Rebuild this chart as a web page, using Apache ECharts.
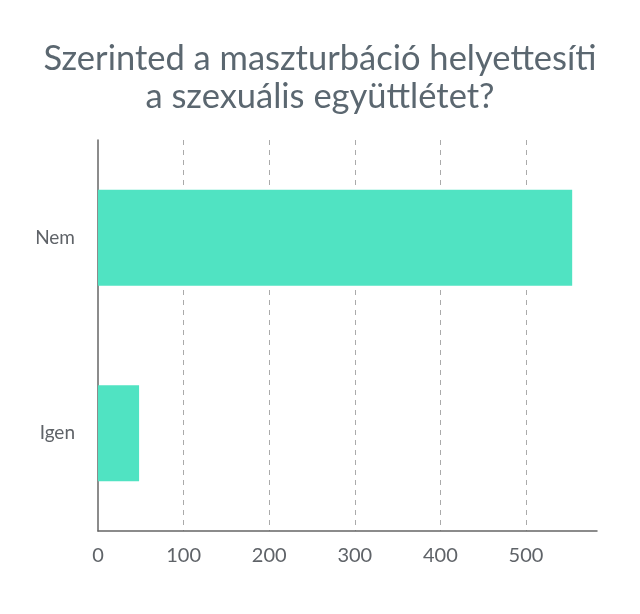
<!DOCTYPE html>
<html><head><meta charset="utf-8">
<script src="https://cdn.jsdelivr.net/npm/echarts@6/dist/echarts.min.js"></script>
<style>html,body{margin:0;padding:0;background:#fff}#c{width:640px;height:614px}</style>
</head><body><div id="c"></div>
<script>
const titleText = 'Szerinted a maszturbáció helyettesíti\na szexuális együttlétet?';
const categories = ['Igen', 'Nem'];
const values = [48, 554];
const axisMax = 583;
const tickInterval = 100;

const chart = echarts.init(document.getElementById('c'));
chart.setOption({
  animation: false,
  title: {
    text: titleText, left: 'center', top: 35,
    textStyle: { fontFamily: 'Lato', fontSize: 34.5, fontWeight: 'normal', color: '#5b6770', lineHeight: 38 }
  },
  grid: { left: 98, right: 43, top: 140, bottom: 83 },
  xAxis: {
    type: 'value', min: 0, max: axisMax, interval: tickInterval,
    axisLine: { show: true, lineStyle: { color: '#666', width: 1.5 } },
    axisTick: { show: false },
    axisLabel: {
      fontFamily: 'Lato', fontSize: 20, color: '#5f6368', margin: 15,
      formatter: v => (v % tickInterval === 0 ? String(v) : '')
    },
    splitLine: { show: true, showMinLine: false, showMaxLine: false, lineStyle: { color: '#aaa', type: [5, 5], width: 1 } }
  },
  yAxis: {
    type: 'category', data: categories,
    axisLine: { show: true, lineStyle: { color: '#666', width: 1.5 } },
    axisTick: { show: false },
    axisLabel: { fontFamily: 'Lato', fontSize: 19, color: '#5f6368', margin: 23 }
  },
  series: [{
    type: 'bar', data: values, barCategoryGap: '51%',
    itemStyle: { color: '#50E3C2' }
  }]
});
</script></body></html>
